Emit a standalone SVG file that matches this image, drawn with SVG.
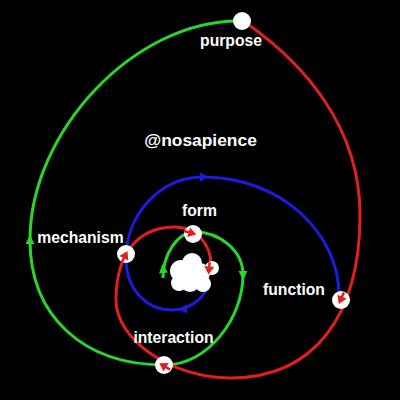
<svg xmlns="http://www.w3.org/2000/svg" xmlns:xlink="http://www.w3.org/1999/xlink" width="400" height="400" viewBox="0 0 400 400">
<style>
.g{stroke:#2bd62b;fill:none;stroke-width:3}
.r{stroke:#e0201c;fill:none;stroke-width:3}
.b{stroke:#1c1ce0;fill:none;stroke-width:3}
.node{fill:#fff}
.lbl{fill:#fff;font-family:"Liberation Sans",Arial,sans-serif;font-weight:bold;font-size:15.7px;text-anchor:middle}
.title{font-size:17.4px}
</style>
<defs>
<polygon id="head" points="5,0 -4,-4.5 -4,4.5"/>
<g id="rarrow"><line x1="-7" y1="0" x2="0" y2="0" stroke="#e0201c" stroke-width="2.5"/><polygon points="5.5,0 -2.5,-5 -2.5,5" fill="#e0201c"/></g>
</defs>
<rect width="400" height="400" fill="#000"/>
<g id="connectors">
<path class="g" d="M163,278 C163,255 177,232 195,232 C219,232 243,250 243,275 C243,318 208,365 165,365 C83,365 30,316 30,240 C30,132 134,21 238,21"/>
<path class="r" d="M249,25 C302,63 360,125 360,215 C360,315 315,378 230,378 C172,378 116,340 116,300 C116,255 137,227 175,227 C195,227 211,243 211,265"/>
<path class="b" d="M207,288 C202,300 188,310 172,310 C147,310 126,290 126,258 C126,215 160,177 203,177 C283,177 339,235 339,295"/>
<use xlink:href="#head" fill="#2bd62b" transform="translate(30,240) rotate(-90)"/>
<use xlink:href="#head" fill="#2bd62b" transform="translate(243,275) rotate(90)"/>
<use xlink:href="#head" fill="#2bd62b" transform="translate(163,269) rotate(-97)"/>
<use xlink:href="#head" fill="#1c1ce0" transform="translate(204,177) rotate(0)"/>
<use xlink:href="#head" fill="#1c1ce0" transform="translate(183,309) rotate(180)"/>
</g>
<g id="cloud">
<circle class="node" cx="181" cy="271" r="11"/>
<circle class="node" cx="192" cy="263" r="10"/>
<circle class="node" cx="200" cy="273" r="10"/>
<circle class="node" cx="190" cy="282" r="10"/>
<circle class="node" cx="179" cy="283" r="8"/>
<circle class="node" cx="203" cy="284" r="8"/>
<circle class="node" cx="212" cy="268" r="7"/>
<use xlink:href="#rarrow" transform="translate(209,269) rotate(95)"/>
</g>
<g id="purpose">
<circle class="node" cx="242" cy="21" r="9"/>
<text class="lbl" x="231" y="46">purpose</text>
</g>
<g id="title">
<text class="lbl title" x="200.5" y="146">@nosapience</text>
</g>
<g id="form">
<circle class="node" cx="193" cy="234" r="9"/>
<use xlink:href="#rarrow" transform="translate(191,233) rotate(17)"/>
<text class="lbl" x="199.5" y="216">form</text>
</g>
<g id="mechanism">
<circle class="node" cx="126" cy="254" r="9"/>
<use xlink:href="#rarrow" transform="translate(125,256) rotate(-63)"/>
<text class="lbl" x="80.5" y="243">mechanism</text>
</g>
<g id="function">
<circle class="node" cx="341" cy="300" r="9"/>
<use xlink:href="#rarrow" transform="translate(341,299) rotate(114)"/>
<text class="lbl" x="294" y="295">function</text>
</g>
<g id="interaction">
<circle class="node" cx="164" cy="365" r="9"/>
<use xlink:href="#rarrow" transform="translate(164,366) rotate(211)"/>
<text class="lbl" x="173.5" y="343">interaction</text>
</g>
</svg>
